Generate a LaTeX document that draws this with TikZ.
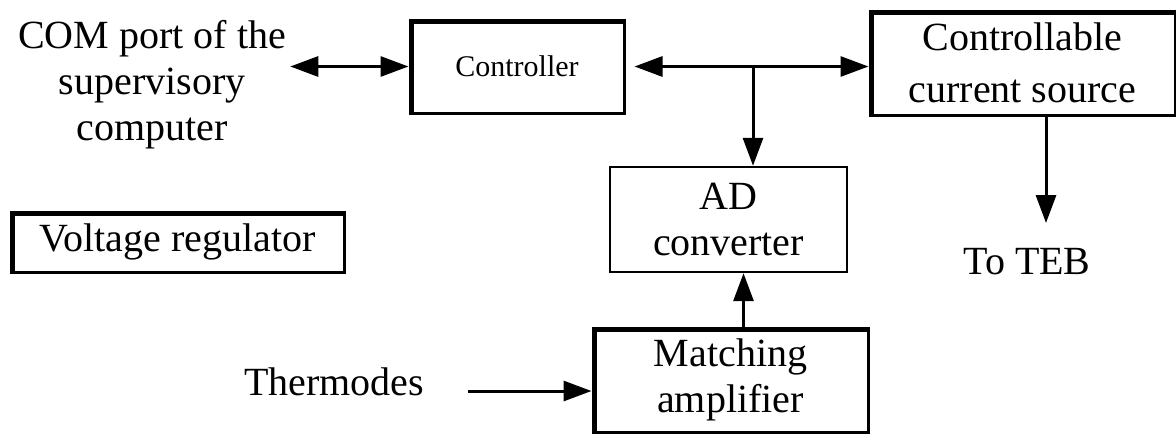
\documentclass[tikz,border=0pt]{standalone}
\usepackage{fontspec}
\setmainfont{Liberation Serif}
\usetikzlibrary{arrows.meta}

\begin{document}
\begin{tikzpicture}[x=0.5pt,y=-0.5pt,
			every node/.style={inner sep=2pt,align=center,font=\fontsize{20}{23}\selectfont},
			box/.style={draw,line width=1.5pt,inner sep=0pt},
			heavy/.style={path picture={\draw[line width=4pt]
				(path picture bounding box.south west) |- (path picture bounding box.north east);}},
			arr/.style={line width=1.5pt,-{Triangle[length=14pt,width=10pt]}},
			biarr/.style={line width=1.5pt,{Triangle[length=14pt,width=10pt]}-{Triangle[length=14pt,width=10pt]}}]
		\useasboundingbox (0,0) rectangle (1176,434);
		% blocks
		\node (com) at (152,85) {COM port of the\\supervisory\\computer};
		\node[box,heavy,minimum width=107pt,minimum height=46.5pt,
			font=\fontsize{15}{18}\selectfont] (ctrl) at (517,66.5) {Controller};
		\node[box,heavy,minimum width=152.5pt,minimum height=52pt,
			font=\fontsize{20}{26}\selectfont] (ccs) at (1022.5,63) {Controllable\\current source};
		\node[box,line width=1.2pt,minimum width=118.5pt,minimum height=52.5pt] (ad) at (728.5,219.5) {AD\\converter};
		\node[box,heavy,minimum width=137.5pt,minimum height=52pt] (amp) at (730.5,380) {Matching\\amplifier};
		\node[box,heavy,minimum width=166.5pt,minimum height=30pt] (vr) at (177.5,242) {Voltage regulator};
		\node (thm) at (334,382) {Thermodes};
		\node (teb) at (1027,262) {To TEB};
		\coordinate (jn) at (753,66.5);
		\coordinate (tip) at (1046,223);
		% links
		\draw[biarr] (com.east |- ctrl.west) -- (ctrl.west);
		\draw[biarr,shorten <=4.5pt] (ctrl.east) -- (ccs.west |- ctrl.east);
		\draw[arr] (jn) -- (jn |- ad.north);
		\draw[arr] (ccs.south -| tip) -- (tip);
		\draw[arr] ([xshift=6.5pt]amp.north) -- ([xshift=6.5pt]amp.north |- ad.south);
		\draw[arr,shorten <=20pt] (thm.east |- 0,391) -- (amp.west |- 0,391);
\end{tikzpicture}
\end{document}
